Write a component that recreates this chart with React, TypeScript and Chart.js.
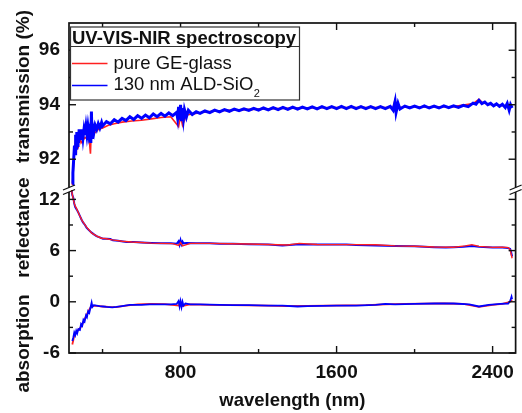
import React, { useEffect, useRef } from "react";
import { Chart, registerables } from "chart.js";

Chart.register(...registerables);

const FONT = '"Liberation Sans", Arial, Helvetica, sans-serif';
const INK = "#111111";
const RED = "#ff2020";
const BLUE = "#0000ff";

// axis ticks
const X_MAJOR = [800, 1600, 2400];
const X_MINOR = [400, 1200, 2000];
const T_MAJOR = [92, 94, 96];
const T_MINOR = [93, 95];
const RA_MAJOR = [-6, 0, 6, 12];
const RA_MINOR = [-3, 3, 9];

// transmission (%) – 130 nm ALD-SiO2 (blue)
const wlTransBlue = [
  245, 248, 252, 256, 259, 262, 265, 268, 271, 274,
  277, 280, 284, 288, 292, 296, 300, 305, 310, 315,
  320, 325, 330, 335, 340, 343, 346, 350, 356, 362,
  370, 378, 386, 395,
  400, 420, 440, 460, 480, 500, 520, 540, 560, 580,
  600, 620, 640, 660, 680, 700, 720, 740, 760, 780,
  785, 790, 795, 800, 805, 810, 815, 820, 830, 840,
  860, 880, 900, 925, 950, 975, 1000, 1025, 1050, 1075,
  1100, 1125, 1150, 1175, 1200, 1225, 1250, 1275, 1300, 1325,
  1350, 1375, 1400, 1425, 1450, 1475, 1500, 1525, 1550, 1575,
  1600, 1625, 1650, 1675, 1700, 1725, 1750, 1775, 1800, 1825,
  1850, 1875, 1890, 1900, 1905, 1915, 1925, 1950, 1975, 2000,
  2025, 2050, 2075, 2100, 2125, 2150, 2175, 2200, 2225, 2250,
  2275, 2300, 2315, 2330, 2345, 2360, 2375, 2390, 2405, 2420,
  2435, 2450, 2465, 2475, 2485, 2492, 2500,
];
const transBlue = [
  91.1, 91.5, 92.0, 92.5, 92.2, 92.9, 92.4, 93.0, 92.5, 92.9,
  92.6, 93.1, 92.7, 93.0, 92.7, 93.1, 92.8, 93.1, 92.9, 93.2,
  92.9, 93.2, 92.9, 93.1, 92.6, 93.75, 92.8, 93.2, 93.0, 93.25,
  93.1, 93.3, 93.15, 93.35,
  93.22, 93.38, 93.3, 93.45, 93.36, 93.5, 93.42, 93.56, 93.46, 93.6,
  93.5, 93.62, 93.52, 93.66, 93.56, 93.68, 93.58, 93.7, 93.6, 93.72,
  93.5, 93.92, 93.45, 94.0, 93.4, 93.88, 93.5, 93.82, 93.55, 93.8,
  93.64, 93.74, 93.68, 93.77, 93.71, 93.8, 93.74, 93.82, 93.76, 93.84,
  93.78, 93.85, 93.79, 93.87, 93.8, 93.88, 93.81, 93.89, 93.82, 93.9,
  93.83, 93.91, 93.84, 93.91, 93.85, 93.92, 93.85, 93.93, 93.86, 93.93,
  93.86, 93.94, 93.86, 93.94, 93.86, 93.93, 93.86, 93.93, 93.86, 93.93,
  93.86, 93.94, 93.8, 94.12, 93.72, 94.05, 93.84, 93.95, 93.88, 93.95,
  93.88, 93.96, 93.88, 93.95, 93.88, 93.96, 93.89, 93.96, 93.9, 93.98,
  93.93, 94.06, 94.02, 94.16, 94.04, 94.1, 94.0, 94.05, 93.96, 94.03,
  93.94, 94.02, 93.9, 94.05, 93.8, 94.0, 93.88,
];

// transmission (%) – pure GE-glass (red)
const wlTransRed = [
  245, 250, 255, 260, 265, 270, 275, 280, 290, 300,
  310, 320, 330, 338, 342, 350, 365, 380, 400, 430,
  460, 500, 550, 600, 650, 700, 750, 790, 800, 810,
  830, 870, 920, 1000, 1100, 1200, 1300, 1400, 1500, 1600,
  1700, 1800, 1890, 1900, 1910, 2000, 2100, 2200, 2300, 2330,
  2350, 2400, 2450, 2500,
];
const transRed = [
  91.05, 91.6, 92.3, 92.6, 92.2, 92.8, 92.4, 92.9, 92.6, 92.7,
  92.8, 92.75, 92.9, 92.2, 93.0, 92.9, 93.0, 93.1, 93.15, 93.25,
  93.3, 93.36, 93.4, 93.43, 93.48, 93.53, 93.56, 93.2, 93.6, 93.25,
  93.62, 93.67, 93.73, 93.78, 93.81, 93.84, 93.86, 93.875, 93.89, 93.9,
  93.9, 93.9, 93.9, 94.18, 93.9, 93.915, 93.915, 93.93, 94.04, 94.2,
  94.06, 94.0, 93.97, 93.93,
];

// reflectance (%) – blue
const wlReflBlue = [
  240, 245, 250, 255, 260, 268, 275, 283, 292, 300,
  310, 318, 330, 344, 356, 369, 385, 402, 420, 440,
  453, 480, 522, 560, 600, 650, 700, 750, 780, 790,
  795, 800, 805, 810, 815, 830, 880, 950, 1000, 1068,
  1150, 1250, 1322, 1409, 1450, 1500, 1600, 1650, 1700, 1800,
  1900, 2000, 2100, 2160, 2200, 2250, 2294, 2330, 2400, 2450,
  2480, 2490, 2495, 2500,
];
const reflBlue = [
  13.3, 12.5, 12.2, 11.5, 11.1, 10.8, 10.5, 10.1, 9.65, 9.3,
  9.0, 8.7, 8.4, 8.1, 7.9, 7.7, 7.55, 7.4, 7.4, 7.35,
  7.2, 7.15, 7.0, 7.0, 6.95, 6.9, 6.85, 6.85, 6.8, 7.1,
  6.7, 7.2, 6.75, 7.05, 6.85, 6.9, 6.85, 6.85, 6.8, 6.8,
  6.75, 6.7, 6.6, 6.75, 6.7, 6.7, 6.7, 6.7, 6.65, 6.6,
  6.55, 6.5, 6.4, 6.35, 6.4, 6.45, 6.55, 6.45, 6.35, 6.35,
  6.3, 6.2, 5.8, 5.3,
];

// reflectance (%) – red
const wlReflRed = [
  240, 245, 250, 258, 265, 275, 285, 295, 305, 318,
  330, 345, 360, 375, 395, 420, 450, 500, 550, 600,
  650, 700, 760, 790, 800, 810, 850, 950, 1050, 1150,
  1250, 1350, 1409, 1500, 1600, 1700, 1800, 1900, 2000, 2100,
  2200, 2260, 2294, 2330, 2400, 2450, 2480, 2490, 2500,
];
const reflRed = [
  13.2, 12.6, 12.0, 11.3, 11.0, 10.5, 10.0, 9.5, 9.2, 8.75,
  8.45, 8.05, 7.85, 7.65, 7.45, 7.38, 7.25, 7.1, 7.0, 6.95,
  6.88, 6.85, 6.82, 6.6, 6.95, 6.55, 6.85, 6.85, 6.8, 6.78,
  6.72, 6.65, 6.85, 6.72, 6.7, 6.7, 6.68, 6.55, 6.5, 6.42,
  6.4, 6.55, 6.7, 6.5, 6.38, 6.4, 6.35, 6.1, 5.1,
];

// absorption (%) – blue
const wlAbsBlue = [
  245, 250, 255, 260, 265, 270, 276, 284, 290, 296,
  302, 308, 315, 320, 326, 332, 338, 344, 348, 355,
  369, 385, 405, 420, 450, 471, 500, 540, 600, 642,
  700, 750, 780, 790, 795, 800, 805, 810, 815, 825,
  850, 900, 1000, 1068, 1150, 1250, 1322, 1400, 1450, 1600,
  1700, 1800, 1850, 1900, 2000, 2100, 2200, 2280, 2330, 2380,
  2440, 2480, 2490, 2497, 2500,
];
const absBlue = [
  -4.6, -4.2, -3.6, -3.9, -3.4, -3.7, -3.2, -3.3, -2.6, -2.8,
  -2.1, -2.3, -1.6, -1.8, -1.1, -1.3, -0.7, -0.1, -0.6, -0.4,
  -0.45, -0.5, -0.55, -0.6, -0.65, -0.6, -0.5, -0.35, -0.35, -0.3,
  -0.3, -0.3, -0.25, 0.1, -0.55, 0.05, -0.6, 0.0, -0.45, -0.2,
  -0.3, -0.3, -0.35, -0.4, -0.4, -0.45, -0.45, -0.55, -0.5, -0.45,
  -0.45, -0.35, -0.25, -0.3, -0.25, -0.2, -0.2, -0.3, -0.55, -0.35,
  -0.25, -0.2, 0.1, 0.6, 0.3,
];

// absorption (%) – red
const wlAbsRed = [
  245, 250, 256, 262, 268, 275, 285, 295, 305, 315,
  325, 335, 345, 360, 380, 400, 430, 470, 520, 580,
  650, 720, 790, 800, 810, 850, 950, 1050, 1150, 1250,
  1350, 1450, 1550, 1650, 1750, 1850, 1950, 2050, 2150, 2250,
  2330, 2400, 2450, 2490, 2500,
];
const absRed = [
  -5.0, -4.5, -3.8, -3.6, -3.5, -3.3, -3.1, -2.7, -2.2, -1.7,
  -1.2, -0.8, -0.5, -0.45, -0.5, -0.55, -0.6, -0.62, -0.45, -0.3,
  -0.25, -0.28, -0.45, -0.1, -0.5, -0.3, -0.35, -0.4, -0.42, -0.45,
  -0.5, -0.48, -0.45, -0.42, -0.4, -0.3, -0.25, -0.22, -0.2, -0.25,
  -0.6, -0.35, -0.25, 0.0, 0.2,
];

const pts = (xs: number[], ys: number[]) => xs.map((x, i) => ({ x, y: ys[i] }));

const setTicks = (vals: number[]) => (scale: any) => {
  scale.ticks = vals.map((v) => ({ value: v }));
};

const decor = {
  id: "decor",
  afterDatasetsDraw(chart: any) {
    const { ctx, chartArea } = chart;
    const { left, right, top, bottom } = chartArea;
    const sx = chart.scales.x;
    const sT = chart.scales.yT;
    const sR = chart.scales.yRA;
    ctx.save();
    ctx.strokeStyle = INK;
    ctx.lineWidth = 1.7;
    ctx.strokeRect(left, top, right - left, bottom - top);
    const seg = (x1: number, y1: number, x2: number, y2: number) => {
      ctx.beginPath();
      ctx.moveTo(x1, y1);
      ctx.lineTo(x2, y2);
      ctx.stroke();
    };
    ctx.lineWidth = 1.4;
    const MAJ = 7;
    const MIN = 4;
    X_MAJOR.forEach((v) => {
      const p = sx.getPixelForValue(v);
      seg(p, bottom, p, bottom - MAJ);
      seg(p, top, p, top + MAJ);
    });
    X_MINOR.forEach((v) => {
      const p = sx.getPixelForValue(v);
      seg(p, bottom, p, bottom - MIN);
      seg(p, top, p, top + MIN);
    });
    const yTicks = (scale: any, vals: number[], len: number) => {
      vals.forEach((v) => {
        const p = scale.getPixelForValue(v);
        seg(left, p, left + len, p);
        seg(right, p, right - len, p);
      });
    };
    yTicks(sT, T_MAJOR, MAJ);
    yTicks(sT, T_MINOR, MIN);
    yTicks(sR, RA_MAJOR, MAJ);
    yTicks(sR, RA_MINOR, MIN);
    // axis breaks
    const brk = sT.bottom;
    [left, right].forEach((xx) => {
      ctx.fillStyle = "#ffffff";
      ctx.fillRect(xx - 2, brk - 2.5, 4, 4.5);
      ctx.lineWidth = 1.3;
      seg(xx - 6, brk, xx + 6, brk - 5);
      seg(xx - 6, brk + 4.5, xx + 6, brk - 0.5);
    });
    ctx.restore();
  },
  afterDraw(chart: any) {
    const { ctx, chartArea } = chart;
    const { left, top } = chartArea;
    ctx.save();
    // legend box
    const bx = left + 1.5;
    const by = top + 4;
    const bw = 229;
    const bh = 73;
    ctx.fillStyle = "#ffffff";
    ctx.fillRect(bx, by, bw, bh);
    ctx.strokeStyle = "#333333";
    ctx.lineWidth = 1.2;
    ctx.strokeRect(bx, by, bw, bh);
    ctx.beginPath();
    ctx.moveTo(bx, by + 19.5);
    ctx.lineTo(bx + bw, by + 19.5);
    ctx.stroke();
    ctx.fillStyle = INK;
    ctx.textBaseline = "alphabetic";
    ctx.textAlign = "left";
    ctx.font = `bold 18.5px ${FONT}`;
    ctx.fillText("UV-VIS-NIR spectroscopy", bx + 1.5, by + 16.5);
    ctx.lineWidth = 1.6;
    ctx.strokeStyle = RED;
    ctx.beginPath();
    ctx.moveTo(bx + 1.5, by + 36.5);
    ctx.lineTo(bx + 37, by + 36.5);
    ctx.stroke();
    ctx.strokeStyle = BLUE;
    ctx.beginPath();
    ctx.moveTo(bx + 1.5, by + 58.5);
    ctx.lineTo(bx + 37, by + 58.5);
    ctx.stroke();
    ctx.font = `18.5px ${FONT}`;
    ctx.fillText("pure GE-glass", bx + 43, by + 42);
    const main = "130 nm ALD-SiO";
    ctx.fillText(main, bx + 43, by + 62.5);
    const w = ctx.measureText(main).width;
    ctx.font = `11px ${FONT}`;
    ctx.fillText("2", bx + 43 + w + 0.5, by + 70);
    // y titles
    ctx.font = `bold 19px ${FONT}`;
    ctx.textAlign = "center";
    ctx.textBaseline = "middle";
    const vt = (text: string, cy: number) => {
      ctx.save();
      ctx.translate(24, cy);
      ctx.rotate(-Math.PI / 2);
      ctx.fillText(text, 0, 0);
      ctx.restore();
    };
    vt("transmission (%)", top + 63.5);
    vt("reflectance", top + 204.5);
    vt("absorption", top + 320.5);
    ctx.restore();
  },
};

export default function App() {
  const ref = useRef<HTMLCanvasElement>(null);
  useEffect(() => {
    const canvas = ref.current;
    if (!canvas) return;
    const tickFont = { family: FONT, size: 19, weight: "bold" as const };
    // order: higher value is drawn further back
    const lineDs = (label: string, data: any, color: string, axis: string, width: number, order: number) => ({
      label,
      data,
      yAxisID: axis,
      borderColor: color,
      backgroundColor: color,
      borderWidth: width,
      pointRadius: 0,
      tension: 0,
      fill: false,
      order,
    });
    const chart = new Chart(canvas, {
      type: "line",
      data: {
        datasets: [
          lineDs("pure GE-glass", pts(wlTransRed, transRed), RED, "yT", 1.6, 6),
          lineDs("130 nm ALD-SiO2", pts(wlTransBlue, transBlue), BLUE, "yT", 3.0, 1),
          lineDs("130 nm ALD-SiO2 R", pts(wlReflBlue, reflBlue), BLUE, "yRA", 2.0, 5),
          lineDs("pure GE-glass R", pts(wlReflRed, reflRed), RED, "yRA", 1.4, 2),
          lineDs("pure GE-glass A", pts(wlAbsRed, absRed), RED, "yRA", 1.8, 4),
          lineDs("130 nm ALD-SiO2 A", pts(wlAbsBlue, absBlue), BLUE, "yRA", 1.8, 3),
        ],
      },
      options: {
        responsive: false,
        animation: false,
        devicePixelRatio: 1,
        layout: { padding: { top: 23, right: 5, left: 0, bottom: 0 } },
        plugins: { legend: { display: false }, tooltip: { enabled: false } },
        scales: {
          x: {
            type: "linear",
            min: 228,
            max: 2518,
            afterBuildTicks: setTicks(X_MAJOR),
            afterFit: (s: any) => {
              s.height = 60;
            },
            grid: { display: false, drawTicks: false },
            border: { display: false },
            ticks: {
              font: tickFont,
              color: INK,
              padding: 8,
              maxRotation: 0,
              autoSkip: false,
              callback: (v: any) => String(v),
            },
            title: {
              display: true,
              text: "wavelength (nm)",
              color: INK,
              font: { family: FONT, size: 18.5, weight: "bold" },
              padding: { top: 0, bottom: 1 },
            },
          },
          yRA: {
            type: "linear",
            position: "left",
            stack: "y",
            stackWeight: 163,
            min: -6,
            max: 13.1,
            afterBuildTicks: setTicks(RA_MAJOR),
            afterFit: (s: any) => {
              s.width = 69;
            },
            grid: { display: false, drawTicks: false },
            border: { display: false },
            ticks: {
              font: tickFont,
              color: INK,
              padding: 9,
              autoSkip: false,
              callback: (v: any) => String(v),
            },
          },
          yT: {
            type: "linear",
            position: "left",
            stack: "y",
            stackWeight: 167,
            min: 90.87,
            max: 97,
            afterBuildTicks: setTicks(T_MAJOR),
            afterFit: (s: any) => {
              s.width = 69;
            },
            grid: { display: false, drawTicks: false },
            border: { display: false },
            ticks: {
              font: tickFont,
              color: INK,
              padding: 9,
              autoSkip: false,
              callback: (v: any) => String(v),
            },
          },
        },
      },
      plugins: [decor],
    });
    return () => chart.destroy();
  }, []);
  return (
    <div style={{ position: "absolute", left: 0, top: 0, width: 522, height: 413, background: "#ffffff" }}>
      <canvas ref={ref} width={522} height={413} style={{ display: "block", width: 522, height: 413 }} />
    </div>
  );
}
